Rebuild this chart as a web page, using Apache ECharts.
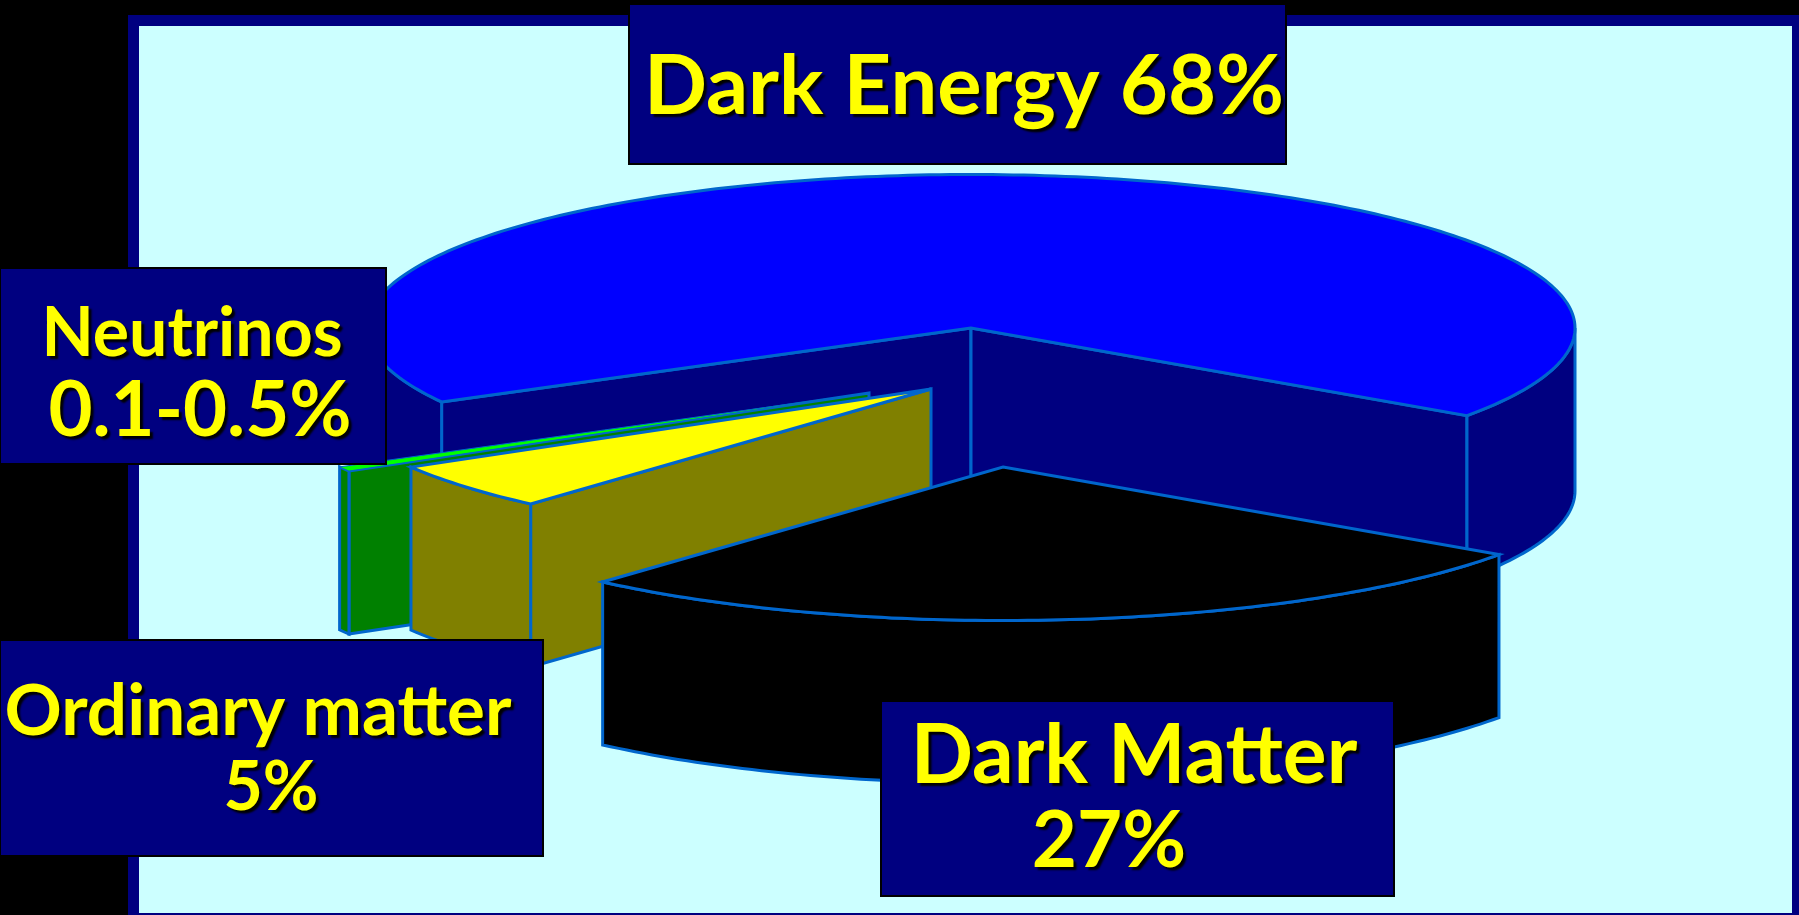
<!DOCTYPE html>
<html>
<head>
<meta charset="utf-8">
<style>html,body{margin:0;padding:0;background:#000}#chart{width:1799px;height:915px}</style>
<script src="https://cdn.jsdelivr.net/npm/echarts@6/dist/echarts.min.js"></script>
</head>
<body>
<div id="chart"></div>
<script>
// Composition of the universe, in percent
const sliceNames = ['Dark Energy', 'Dark Matter', 'Ordinary matter', 'Neutrinos'];
const sliceValues = [68, 27, 5, 0.5];
const labelLines = [
  ['Dark Energy 68%'],
  ['Dark Matter', '27%'],
  ['Ordinary matter', '5%'],
  ['Neutrinos', '0.1-0.5%']
];

// Slice styling and exploded offsets, same order as sliceNames
const topColors = ['#0000FF', '#000000', '#FFFF00', '#00FF00'];
const wallColors = ['#000080', '#000000', '#808000', '#008000'];
const explode = [[0, 0], [32, 139], [-40, 61], [-102, 65]];
const paintOrder = [0, 3, 2, 1];

// Projected disc geometry
const disc = { cx: 971, cy: 328, rx: 604, ry: 153.5, depth: 163, startDeg: 34.8 };
const edgeColor = '#0066CC';
const edgeWidth = 3;
const sliverEdgeWidth = 1;

// Label boxes and the placement of each text line
const labelBoxes = [
  { x: 629, y: 4, w: 657, h: 160, lines: [{ cx: 964, y: 87, size: 83 }] },
  { x: 881, y: 701, w: 513, h: 195, lines: [{ cx: 1134, y: 757, size: 82 }, { cx: 1109, y: 842, size: 78 }] },
  { x: 0, y: 640, w: 543, h: 216, lines: [{ cx: 258, y: 712, size: 71 }, { cx: 271, y: 788, size: 68 }] },
  { x: 0, y: 268, w: 386, h: 196, lines: [{ cx: 192, y: 334, size: 68 }, { cx: 200, y: 411, size: 76 }] }
];

// Angular extent of every slice, clockwise on screen from the disc's right end
const total = sliceValues.reduce((a, b) => a + b, 0);
const arcs = [];
let cursor = disc.startDeg;
[1, 2, 3, 0].forEach(i => {
  const sweep = sliceValues[i] / total * 360;
  arcs[i] = [cursor, cursor + sweep];
  cursor += sweep;
});

function rimPoint(i, deg, drop) {
  const a = deg * Math.PI / 180;
  return [
    disc.cx + explode[i][0] + disc.rx * Math.cos(a),
    disc.cy + explode[i][1] + disc.ry * Math.sin(a) + drop
  ];
}
function rimPath(i, from, to, drop) {
  const pts = [];
  const n = Math.max(2, Math.ceil(Math.abs(to - from)));
  for (let k = 0; k <= n; k++) pts.push(rimPoint(i, from + (to - from) * k / n, drop));
  return pts;
}
function apex(i, drop) {
  return [disc.cx + explode[i][0], disc.cy + explode[i][1] + drop];
}
function face(points, fill, width) {
  return {
    type: 'polygon',
    shape: { points },
    style: { fill, stroke: edgeColor, lineWidth: width, lineJoin: 'miter' }
  };
}

function renderSlice(params) {
  const i = paintOrder[params.dataIndex];
  const [a1, a2] = arcs[i];
  const narrow = a2 - a1 < 5;
  const children = [];
  const radial = deg => face(
    [apex(i, 0), rimPoint(i, deg, 0), rimPoint(i, deg, disc.depth), apex(i, disc.depth)],
    wallColors[i], edgeWidth
  );
  // A cut face shows only when it turns toward the viewer
  if (Math.cos(a1 * Math.PI / 180) < 0) children.push(radial(a1));
  if (Math.cos(a2 * Math.PI / 180) > 0) children.push(radial(a2));
  // The outer wall shows along the near half of the rim
  [[0, 180], [360, 540]].forEach(([lo, hi]) => {
    const from = Math.max(a1, lo);
    const to = Math.min(a2, hi);
    if (to > from) {
      const upper = rimPath(i, from, to, 0);
      const lower = rimPath(i, to, from, disc.depth);
      children.push(face(upper.concat(lower), wallColors[i], edgeWidth));
    }
  });
  children.push(face([apex(i, 0)].concat(rimPath(i, a1, a2, 0)), topColors[i],
    narrow ? sliverEdgeWidth : edgeWidth));
  return { type: 'group', children };
}

const backdrop = [
  { type: 'rect', z: 0, shape: { x: 128, y: 15, width: 1671, height: 900 }, style: { fill: '#000080' } },
  { type: 'rect', z: 0, shape: { x: 139, y: 26, width: 1653, height: 887 }, style: { fill: '#CCFFFF' } }
];
const labels = [];
labelBoxes.forEach((b, i) => {
  labels.push({
    type: 'rect', z: 50,
    shape: { x: b.x, y: b.y, width: b.w, height: b.h },
    style: { fill: '#000080', stroke: '#000000', lineWidth: 2 }
  });
  labelLines[i].forEach((line, k) => {
    const place = b.lines[k];
    labels.push({
      type: 'text', z: 51, x: place.cx, y: place.y,
      style: {
        text: line, fill: '#FFFF00', align: 'center', verticalAlign: 'middle',
        font: 'bold ' + place.size + 'px Lato, "Open Sans", sans-serif',
        textShadowColor: '#000000', textShadowBlur: 2, textShadowOffsetX: 3, textShadowOffsetY: 3
      }
    });
  });
});

const chart = echarts.init(document.getElementById('chart'), null, { renderer: 'canvas' });
chart.setOption({
  animation: false,
  backgroundColor: '#000000',
  graphic: { elements: backdrop.concat(labels) },
  series: [{
    type: 'custom',
    coordinateSystem: 'none',
    z: 10,
    silent: true,
    renderItem: renderSlice,
    data: paintOrder.map(i => ({ name: sliceNames[i], value: sliceValues[i] }))
  }]
});
</script>
</body>
</html>
